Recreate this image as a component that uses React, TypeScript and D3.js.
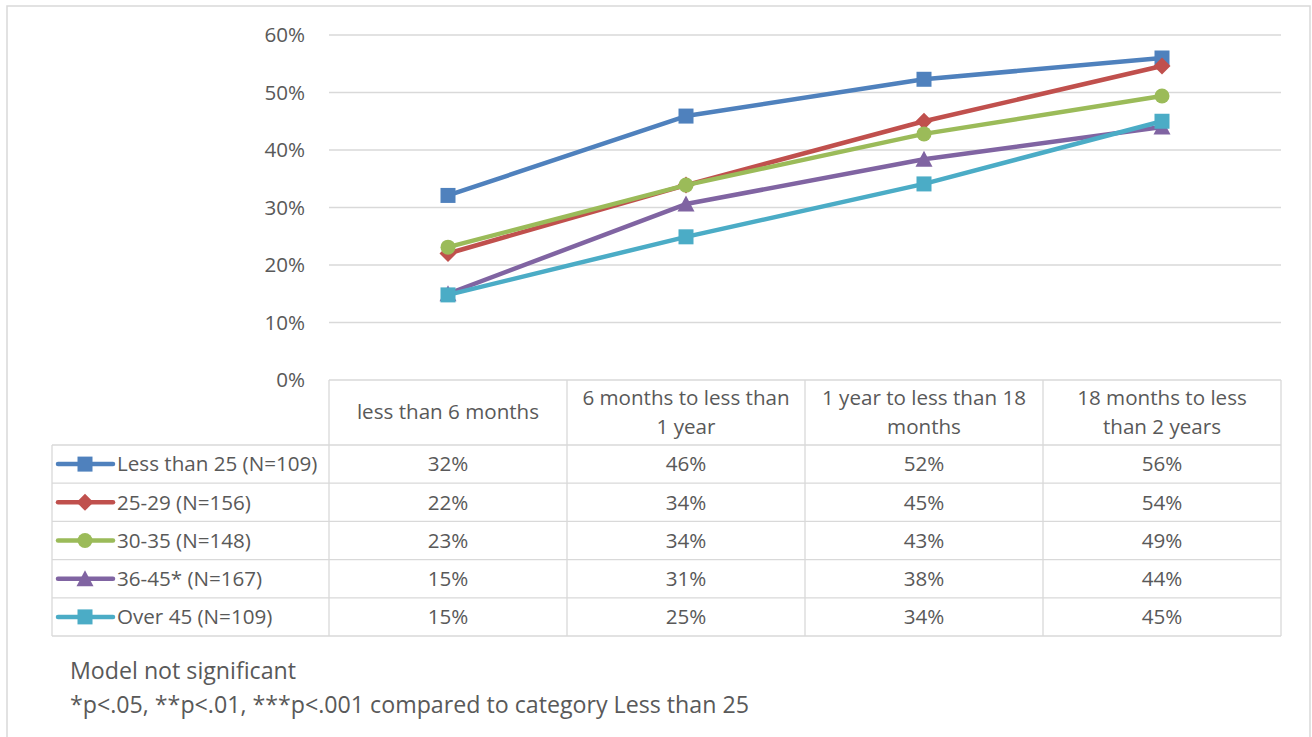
import React from "react";
import * as d3 from "d3";

const categories = [
  ["less than 6 months"],
  ["6 months to less than", "1 year"],
  ["1 year to less than 18", "months"],
  ["18 months to less", "than 2 years"],
];
const seriesNames = [
  "Less than 25 (N=109)",
  "25-29 (N=156)",
  "30-35 (N=148)",
  "36-45* (N=167)",
  "Over 45 (N=109)",
];
const seriesColors = ["#4F81BD", "#C0504D", "#9BBB59", "#8064A2", "#4BACC6"];
const seriesMarkers = ["square", "diamond", "circle", "triangle", "square"];
const values = [
  [32.1, 45.9, 52.3, 56.0],
  [22.0, 33.9, 45.0, 54.6],
  [23.1, 33.9, 42.8, 49.4],
  [15.0, 30.6, 38.4, 44.0],
  [14.8, 24.9, 34.1, 45.0],
];
const tableLabels = [
  ["32%", "46%", "52%", "56%"],
  ["22%", "34%", "45%", "54%"],
  ["23%", "34%", "43%", "49%"],
  ["15%", "31%", "38%", "44%"],
  ["15%", "25%", "34%", "45%"],
];
const yTicks = [0, 10, 20, 30, 40, 50, 60];
const footnotes = [
  "Model not significant",
  "*p<.05, **p<.01, ***p<.001 compared to category Less than 25",
];

const FONT = "'Open Sans', sans-serif";
const TEXT = "#595959";
const GRID = "#d9d9d9";
const FS = 20.6;

function Marker({ type, x, y, color }: { type: string; x: number; y: number; color: string }) {
  if (type === "square") return <rect x={x - 7.5} y={y - 7.5} width={15} height={15} fill={color} />;
  if (type === "circle") return <circle cx={x} cy={y} r={7.5} fill={color} />;
  if (type === "diamond")
    return <path d={`M${x},${y - 8.5}L${x + 8.5},${y}L${x},${y + 8.5}L${x - 8.5},${y}Z`} fill={color} />;
  return <path d={`M${x},${y - 8.5}L${x + 8.5},${y + 7.5}L${x - 8.5},${y + 7.5}Z`} fill={color} />;
}

export default function App() {
  const W = 1312, H = 737;
  const plotL = 329, plotR = 1281, plotT = 35, plotB = 380;
  const x = d3.scaleBand<number>().domain(d3.range(categories.length)).range([plotL, plotR]);
  const y = d3.scaleLinear().domain([0, 60]).range([plotB, plotT]);
  const cx = (i: number) => (x(i) as number) + x.bandwidth() / 2;
  const line = d3.line<number>().x((_, i) => cx(i)).y((d) => y(d));

  const headerBottom = 445;
  const rowH = 38.2;
  const legendL = 52;
  const rowY = (r: number) => headerBottom + r * rowH;
  const tableBottom = rowY(seriesNames.length);

  return (
    <svg width={W} height={H} style={{ position: "absolute", left: 0, top: 0 }} fontFamily={FONT}>
      <rect x={0} y={0} width={W} height={H} fill="#fff" />
      <rect x={7} y={6} width={1303} height={740} fill="none" stroke={GRID} strokeWidth={1.5} />
      {yTicks.map((t) => (
        <g key={t}>
          {t > 0 && <line x1={plotL} x2={plotR} y1={y(t)} y2={y(t)} stroke={GRID} strokeWidth={1.3} />}
          <text x={305} y={y(t)} dy="0.35em" textAnchor="end" fontSize={FS} fill={TEXT}>
            {t}%
          </text>
        </g>
      ))}
      {/* table */}
      <g stroke={GRID} strokeWidth={1.3}>
        <line x1={plotL} x2={plotR} y1={plotB} y2={plotB} />
        {d3.range(categories.length + 1).map((i) => (
          <line key={i} x1={plotL + i * x.bandwidth()} x2={plotL + i * x.bandwidth()} y1={plotB} y2={tableBottom} />
        ))}
        <line x1={legendL} x2={legendL} y1={headerBottom} y2={tableBottom} />
        {d3.range(seriesNames.length + 1).map((r) => (
          <line key={r} x1={legendL} x2={plotR} y1={rowY(r)} y2={rowY(r)} />
        ))}
      </g>
      {categories.map((lines, i) => (
        <text key={i} x={cx(i)} textAnchor="middle" fontSize={FS} fill={TEXT}>
          {lines.map((l, j) => (
            <tspan key={j} x={cx(i)} y={lines.length === 1 ? 419 : 405 + j * 29}>
              {l}
            </tspan>
          ))}
        </text>
      ))}
      {seriesNames.map((name, s) => {
        const my = rowY(s) + rowH / 2;
        return (
          <g key={name}>
            <line x1={58} x2={113} y1={my} y2={my} stroke={seriesColors[s]} strokeWidth={4.5} strokeLinecap="round" />
            <Marker type={seriesMarkers[s]} x={85} y={my} color={seriesColors[s]} />
            <text x={117} y={my} dy="0.35em" fontSize={FS} fill={TEXT}>
              {name}
            </text>
            {tableLabels[s].map((v, i) => (
              <text key={i} x={cx(i)} y={my} dy="0.35em" textAnchor="middle" fontSize={FS} fill={TEXT}>
                {v}
              </text>
            ))}
          </g>
        );
      })}
      {/* lines */}
      {values.map((vals, s) => (
        <g key={s}>
          <path d={line(vals) as string} fill="none" stroke={seriesColors[s]} strokeWidth={4.5} strokeLinejoin="round" strokeLinecap="round" />
          {vals.map((v, i) => (
            <Marker key={i} type={seriesMarkers[s]} x={cx(i)} y={y(v)} color={seriesColors[s]} />
          ))}
        </g>
      ))}
      {footnotes.map((f, i) => (
        <text key={i} x={70} y={679 + i * 34} fontSize={23.2} fill={TEXT}>
          {f}
        </text>
      ))}
    </svg>
  );
}
